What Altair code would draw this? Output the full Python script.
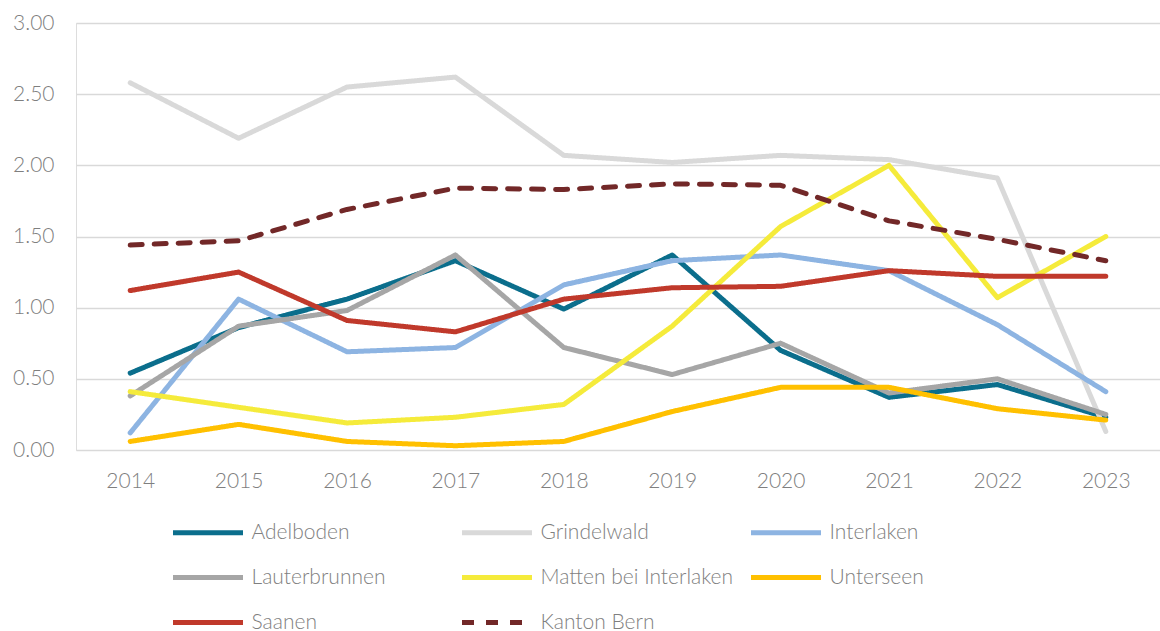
import altair as alt
import pandas as pd

years = ["2014", "2015", "2016", "2017", "2018", "2019", "2020", "2021", "2022", "2023"]
series_names = ["Adelboden", "Grindelwald", "Interlaken", "Lauterbrunnen",
                "Matten bei Interlaken", "Unterseen", "Saanen", "Kanton Bern"]

adelboden = [0.54, 0.86, 1.06, 1.33, 0.99, 1.37, 0.70, 0.37, 0.46, 0.23]
grindelwald = [2.58, 2.19, 2.55, 2.62, 2.07, 2.02, 2.07, 2.04, 1.91, 0.13]
interlaken = [0.12, 1.06, 0.69, 0.72, 1.16, 1.33, 1.37, 1.26, 0.88, 0.41]
lauterbrunnen = [0.38, 0.87, 0.98, 1.37, 0.72, 0.53, 0.75, 0.40, 0.50, 0.25]
matten = [0.41, 0.30, 0.19, 0.23, 0.32, 0.87, 1.57, 2.00, 1.07, 1.50]
unterseen = [0.06, 0.18, 0.06, 0.03, 0.06, 0.27, 0.44, 0.44, 0.29, 0.21]
saanen = [1.12, 1.25, 0.91, 0.83, 1.06, 1.14, 1.15, 1.26, 1.22, 1.22]
kanton_bern = [1.44, 1.47, 1.69, 1.84, 1.83, 1.87, 1.86, 1.61, 1.48, 1.33]

all_values = [adelboden, grindelwald, interlaken, lauterbrunnen, matten,
              unterseen, saanen, kanton_bern]

colors = ["#0B6E8C", "#D9D9D9", "#8DB4E2", "#A6A6A6", "#F5EB3B", "#FFC000",
          "#C0392B", "#722828"]
dashes = [[1, 0]] * 7 + [[12, 12]]
y_ticks = [0, 0.5, 1.0, 1.5, 2.0, 2.5, 3.0]

rows = []
for order, (name, vals) in enumerate(zip(series_names, all_values)):
    for yr, v in zip(years, vals):
        rows.append({"Jahr": yr, "Gemeinde": name, "Wert": v, "ord": order})
df = pd.DataFrame(rows)

font = "Lato"
text_color = "#7F7F7F"

chart = alt.Chart(df).mark_line(
    strokeWidth=5, strokeCap="round", strokeJoin="round"
).encode(
    x=alt.X("Jahr:O", sort=years, scale=alt.Scale(domain=years, padding=0.5),
            axis=alt.Axis(title=None, labelAngle=0, domain=False, ticks=False,
                          grid=False, labelPadding=20, labelFontSize=21,
                          labelColor=text_color, labelFont=font,
                          labelFontWeight=300)),
    y=alt.Y("Wert:Q", scale=alt.Scale(domain=[0, 3], nice=False),
            axis=alt.Axis(title=None, values=y_ticks, format=".2f",
                          domain=False, ticks=False, grid=True,
                          gridColor="#D9D9D9", gridWidth=1.5,
                          labelPadding=22, labelFontSize=21,
                          labelColor=text_color, labelFont=font,
                          labelFontWeight=300)),
    color=alt.Color("Gemeinde:N",
                    scale=alt.Scale(domain=series_names, range=colors),
                    legend=alt.Legend(title=None, orient="none",
                                      legendX=84.5, legendY=497,
                                      direction="horizontal", columns=3,
                                      symbolType="M0,0H7", symbolSize=400,
                                      symbolStrokeWidth=5,
                                      labelFont=font, labelFontSize=21,
                                      labelFontWeight=300,
                                      labelColor=text_color, labelOffset=66,
                                      rowPadding=22, columnPadding=5,
                                      gridAlign="all", padding=0,
                                      labelLimit=400)),
    strokeDash=alt.StrokeDash("Gemeinde:N",
                              scale=alt.Scale(domain=series_names, range=dashes)),
    order=alt.Order("ord:Q"),
).properties(
    width=1084,
    height=427,
    autosize=alt.AutoSizeParams(type="none"),
    padding={"left": 76, "top": 23, "right": 0, "bottom": 181},
).configure_view(stroke=None).configure(background="white")

chart.save("out.html", embed_options={"renderer": "svg", "actions": False})
